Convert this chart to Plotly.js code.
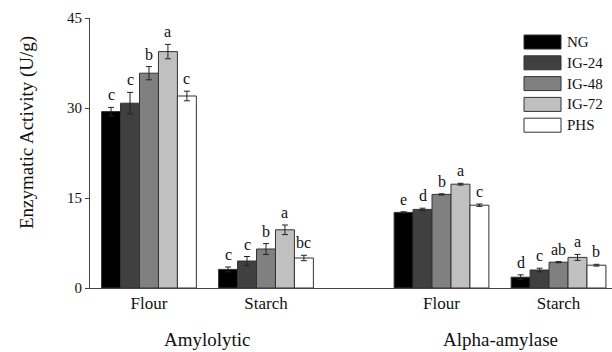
<!DOCTYPE html>
<html>
<head>
<meta charset="utf-8">
<script src="https://cdn.plot.ly/plotly-3.0.1.min.js"></script>
<style>html,body{margin:0;padding:0;background:#fff;}#chart{width:612px;height:352px;}</style>
</head>
<body>
<div id="chart"></div>
<script>
// ---- data ----
const groups = ['Amylolytic', 'Alpha-amylase'];
const subcats = ['Flour', 'Starch'];
const seriesNames = ['NG', 'IG-24', 'IG-48', 'IG-72', 'PHS'];

// order: Amylolytic-Flour, Amylolytic-Starch, Alpha-Flour, Alpha-Starch
const NG   = [29.4, 3.1, 12.6, 1.8];
const IG24 = [30.8, 4.5, 13.1, 3.0];
const IG48 = [35.8, 6.5, 15.6, 4.3];
const IG72 = [39.4, 9.7, 17.3, 5.1];
const PHS  = [32.0, 5.0, 13.8, 3.8];

const NG_err   = [0.7, 0.4, 0.1, 0.4];
const IG24_err = [1.8, 0.75, 0.2, 0.3];
const IG48_err = [1.1, 0.9, 0.1, 0.1];
const IG72_err = [1.2, 0.8, 0.15, 0.5];
const PHS_err  = [0.8, 0.45, 0.2, 0.15];

const NG_lbl   = ['c', 'c', 'e', 'd'];
const IG24_lbl = ['c', 'c', 'd', 'c'];
const IG48_lbl = ['b', 'b', 'b', 'ab'];
const IG72_lbl = ['a', 'a', 'a', 'a'];
const PHS_lbl  = ['c', 'bc', 'c', 'b'];

const yTicks = [0, 15, 30, 45];

// ---- styling / layout ----
const colors = ['#000000', '#404040', '#808080', '#c0c0c0', '#ffffff'];
const values = [NG, IG24, IG48, IG72, PHS];
const errs = [NG_err, IG24_err, IG48_err, IG72_err, PHS_err];
const lbls = [NG_lbl, IG24_lbl, IG48_lbl, IG72_lbl, PHS_lbl];
const FONT = '"Liberation Serif", "Times New Roman", serif';
const GROUP_STEP = 2.5;
const BARGAP = 0.19;

const xpos = [];
const xlabels = [];
groups.forEach((g, gi) => subcats.forEach((s, si) => { xpos.push(gi * GROUP_STEP + si); xlabels.push(s); }));

const L = 90, T = 18, W = 522, H = 270;
const px2x = p => (p - L) / W;
const py2y = p => (T + H - p) / H;

const traces = seriesNames.map((name, i) => ({
  type: 'bar', name: name, x: xpos, y: values[i],
  marker: {color: colors[i], line: {color: '#333333', width: 1}},
  error_y: {type: 'data', array: errs[i], visible: true, color: '#222222', thickness: 1, width: 3},
  showlegend: false, hoverinfo: 'skip'
}));

const barW = (1 - BARGAP) / seriesNames.length;
const annotations = [];
seriesNames.forEach((name, i) => {
  xpos.forEach((x, k) => {
    annotations.push({
      x: x + (i - (seriesNames.length - 1) / 2) * barW, y: values[i][k] + errs[i][k],
      xref: 'x', yref: 'y', text: lbls[i][k], showarrow: false,
      yanchor: 'bottom', xanchor: 'center', yshift: 2,
      font: {family: FONT, size: 16, color: '#111'}
    });
  });
});
// group labels
groups.forEach((g, gi) => {
  annotations.push({
    x: gi * GROUP_STEP + (subcats.length - 1) / 2, y: py2y(339), xref: 'x', yref: 'paper',
    text: g, showarrow: false, xanchor: 'center', yanchor: 'middle',
    font: {family: FONT, size: 19, color: '#111'}
  });
});
// y title
annotations.push({
  x: px2x(27), y: py2y(133), xref: 'paper', yref: 'paper', text: 'Enzymatic Activity (U/g)',
  textangle: -90, showarrow: false, xanchor: 'center', yanchor: 'middle',
  font: {family: FONT, size: 19, color: '#111'}
});
// custom legend
const shapes = [];
seriesNames.forEach((name, i) => {
  const cy = 42 + i * 20.8;
  shapes.push({type: 'rect', xref: 'paper', yref: 'paper',
    x0: px2x(524), x1: px2x(561), y0: py2y(cy + 7), y1: py2y(cy - 7),
    fillcolor: colors[i], line: {color: '#333333', width: 1}});
  annotations.push({x: px2x(565), y: py2y(cy), xref: 'paper', yref: 'paper', text: name,
    showarrow: false, xanchor: 'left', yanchor: 'middle',
    font: {family: FONT, size: 15, color: '#111'}});
});

const layout = {
  width: 612, height: 352,
  margin: {l: L, r: 612 - L - W, t: T, b: 352 - T - H, pad: 0},
  paper_bgcolor: '#ffffff', plot_bgcolor: '#ffffff',
  barmode: 'group', bargap: BARGAP, bargroupgap: 0,
  showlegend: false,
  font: {family: FONT, color: '#111'},
  xaxis: {
    range: [-0.504, 3.957], tickvals: xpos, ticktext: xlabels, ticks: '',
    showline: true, linecolor: '#444', linewidth: 1, showgrid: false, zeroline: false,
    tickfont: {family: FONT, size: 17, color: '#111'}
  },
  yaxis: {
    range: [0, 45], tickvals: yTicks, ticktext: yTicks.map(String), ticks: 'outside', ticklen: 4,
    tickcolor: '#444', showline: true, linecolor: '#444', linewidth: 1, showgrid: false, zeroline: false,
    tickfont: {family: FONT, size: 15, color: '#111'}
  },
  annotations: annotations,
  shapes: shapes
};

Plotly.newPlot('chart', traces, layout, {staticPlot: true, displayModeBar: false});
</script>
</body>
</html>
